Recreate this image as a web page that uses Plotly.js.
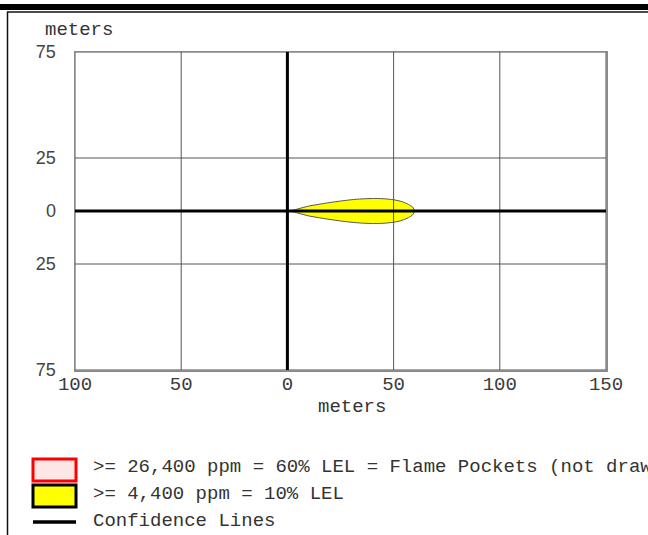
<!DOCTYPE html>
<html>
<head>
<meta charset="utf-8">
<script src="https://cdn.plot.ly/plotly-3.0.1.min.js"></script>
<style>
  html, body { margin: 0; padding: 0; background: #fff; }
  #chart { width: 648px; height: 535px; }
</style>
</head>
<body>
<div id="chart"></div>
<script>
// ---- data ----
const xTickVals = [-100, -50, 0, 50, 100, 150];
const xTickText = ['100', '50', '0', '50', '100', '150'];
const yTickVals = [-75, -25, 0, 25, 75];
const yTickText = ['75', '25', '0', '25', '75'];

// threat zone outline: downwind distance (m) and crosswind half-width (m)
const plumeX         = [2, 5, 10, 15, 20, 25, 30, 35, 40, 45, 50, 54, 57, 59, 60];
const plumeHalfWidth = [0, 1.0, 2.3, 3.2, 4.0, 4.7, 5.3, 5.7, 5.9, 5.8, 5.3, 4.4, 3.1, 1.8, 0];

const legendLabels = [
  '>= 26,400 ppm = 60% LEL = Flame Pockets (not drawn)',
  '>= 4,400 ppm = 10% LEL',
  'Confidence Lines'
];
const axisTitle = 'meters';

// ---- helpers ----
const MONO = '"Liberation Mono", "Courier New", monospace';
const SANS = '"Liberation Sans", Arial, sans-serif';
const L = 75, R = 606, T = 52, B = 370;
const px = v => (v - L) / (R - L);
const py = v => (B - v) / (B - T);

// polygon of the zone (upper edge then mirrored lower edge)
const polyX = plumeX.concat(plumeX.slice().reverse());
const polyY = plumeHalfWidth.concat(plumeHalfWidth.slice().reverse().map(v => -v));

// grid lines built from the tick values
const gx = [], gy = [];
const xMin = xTickVals[0], xMax = xTickVals[xTickVals.length - 1];
const yMin = yTickVals[0], yMax = yTickVals[yTickVals.length - 1];
xTickVals.forEach(v => { gx.push(v, v, null); gy.push(yMin, yMax, null); });
yTickVals.forEach(v => { gx.push(xMin, xMax, null); gy.push(v, v, null); });

const traces = [
  {
    x: polyX, y: polyY, type: 'scatter', mode: 'lines', fill: 'toself',
    fillcolor: '#ffff00', line: { color: '#555', width: 1, shape: 'spline', smoothing: 0.7 },
    hoverinfo: 'skip', showlegend: false
  },
  {
    x: gx, y: gy, type: 'scatter', mode: 'lines',
    line: { color: '#555', width: 1 }, hoverinfo: 'skip', showlegend: false
  },
  {
    x: [xMin, xMax, null, 0, 0], y: [0, 0, null, yMin, yMax], type: 'scatter', mode: 'lines',
    line: { color: '#000', width: 3 }, hoverinfo: 'skip', showlegend: false
  }
];

const shapes = [
  // page frame
  { type: 'rect', xref: 'paper', yref: 'paper', x0: px(0), x1: px(648), y0: py(10), y1: py(4),
    fillcolor: '#000', line: { width: 0 } },
  { type: 'line', xref: 'paper', yref: 'paper', x0: px(7), x1: px(648), y0: py(12), y1: py(12),
    line: { color: '#111', width: 1.5 } },
  { type: 'line', xref: 'paper', yref: 'paper', x0: px(7.5), x1: px(7.5), y0: py(12), y1: py(535),
    line: { color: '#111', width: 1.5 } },
  // legend symbols
  { type: 'rect', xref: 'paper', yref: 'paper', x0: px(33), x1: px(76), y0: py(481), y1: py(459),
    fillcolor: '#fde6e6', line: { color: '#ff0000', width: 3 } },
  { type: 'rect', xref: 'paper', yref: 'paper', x0: px(33), x1: px(76), y0: py(507), y1: py(485),
    fillcolor: '#ffff00', line: { color: '#000', width: 3 } },
  { type: 'line', xref: 'paper', yref: 'paper', x0: px(33), x1: px(76), y0: py(522), y1: py(522),
    line: { color: '#000', width: 3.5 } }
];

const annFont = { family: MONO, size: 19, color: '#333' };
const annotations = [
  { text: axisTitle, xref: 'paper', yref: 'paper', x: px(352), y: py(407),
    xanchor: 'center', yanchor: 'middle', showarrow: false, font: annFont },
  { text: axisTitle, xref: 'paper', yref: 'paper', x: px(43), y: py(30),
    xanchor: 'left', yanchor: 'middle', showarrow: false, font: annFont }
];
[467, 494, 521].forEach((yp, i) => annotations.push({
  text: legendLabels[i], xref: 'paper', yref: 'paper', x: px(91), y: py(yp),
  xanchor: 'left', yanchor: 'middle', showarrow: false, font: annFont
}));

const layout = {
  width: 648, height: 535,
  margin: { l: L, r: 648 - R, t: T, b: 535 - B, pad: 0 },
  paper_bgcolor: '#fff', plot_bgcolor: '#fff',
  showlegend: false,
  xaxis: {
    range: [xMin, xMax], tickvals: xTickVals, ticktext: xTickText,
    showgrid: false, zeroline: false, showline: true, mirror: true,
    linecolor: '#8a8a8a', linewidth: 1.5, ticks: '', ticklabelstandoff: -4,
    tickfont: { family: MONO, size: 19, color: '#3a3a3a' }, fixedrange: true
  },
  yaxis: {
    range: [yMin, yMax], tickvals: yTickVals, ticktext: yTickText,
    showgrid: false, zeroline: false, showline: true, mirror: true,
    linecolor: '#8a8a8a', linewidth: 1.5, ticks: '', ticklabelstandoff: 14,
    tickfont: { family: SANS, size: 18, color: '#444' }, fixedrange: true
  },
  shapes: shapes,
  annotations: annotations
};

Plotly.newPlot('chart', traces, layout, { displayModeBar: false, staticPlot: true });
</script>
</body>
</html>
